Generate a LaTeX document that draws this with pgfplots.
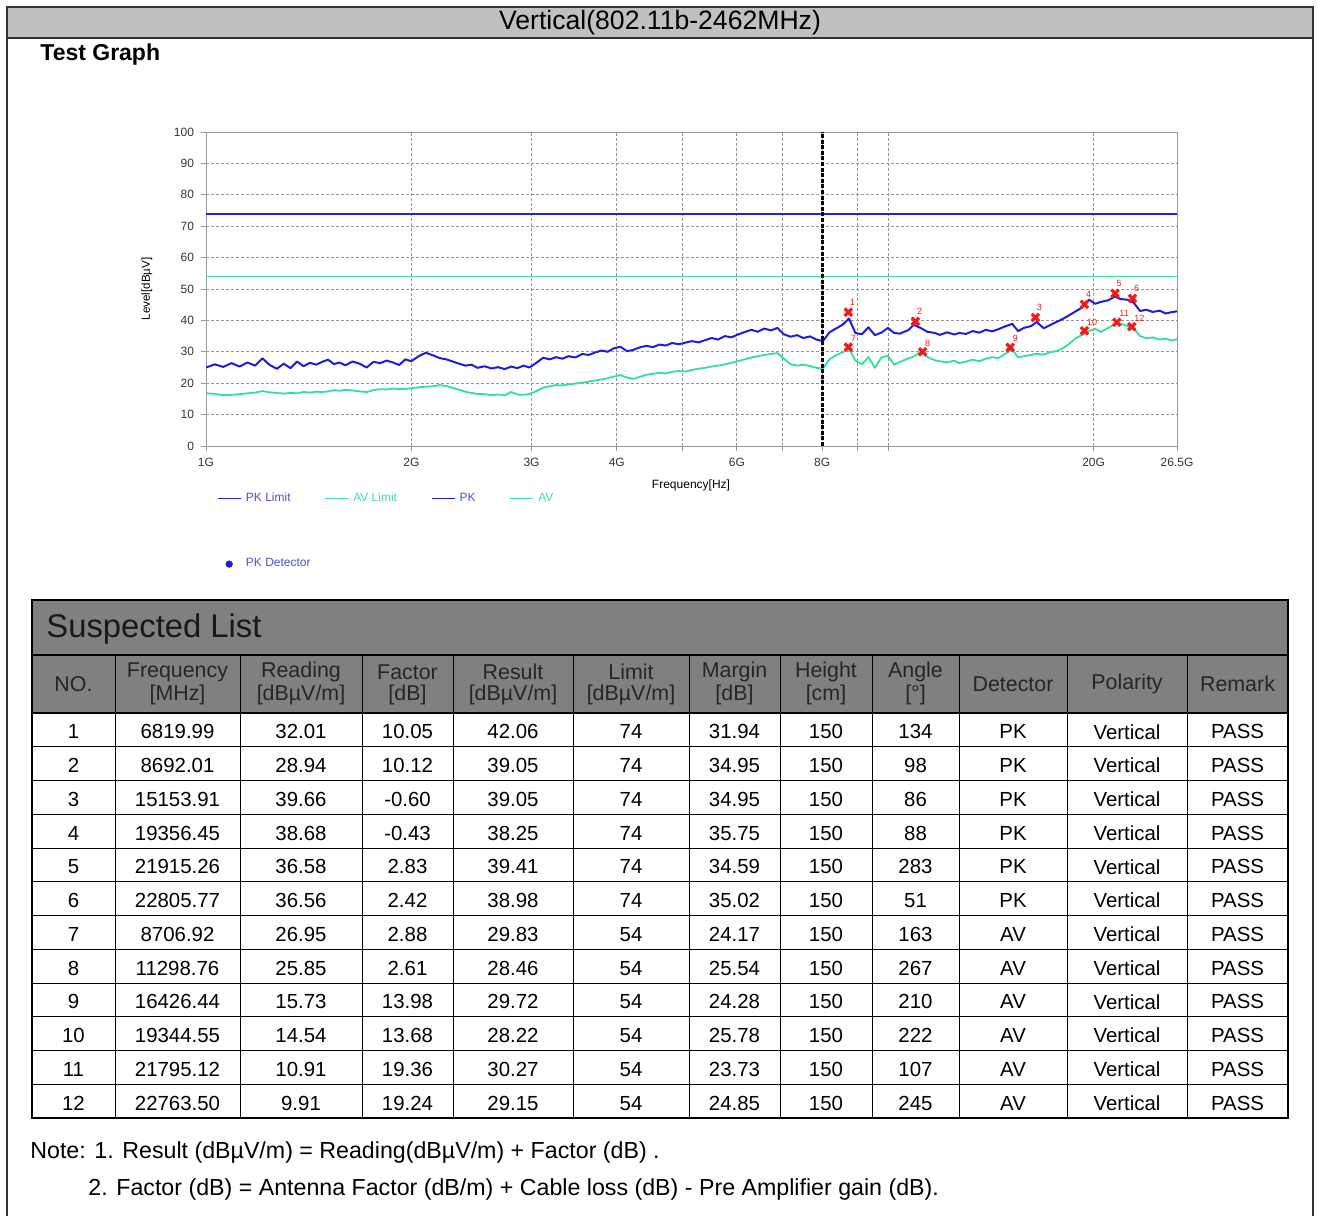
\documentclass[border=0pt]{standalone}
\usepackage{fontspec}
\setmainfont{Liberation Sans}
\usepackage{pgfplots}
\usepackage{pgfplotstable}
\pgfplotsset{compat=1.18}
\definecolor{pkblue}{RGB}{30,30,215}
\definecolor{avgreen}{RGB}{50,225,150}
\definecolor{pklim}{RGB}{35,35,220}
\definecolor{avlim}{RGB}{60,230,160}
\definecolor{barg}{RGB}{192,192,192}
\definecolor{hdrg}{RGB}{128,128,128}
\definecolor{mk}{RGB}{245,25,25}
\definecolor{gridg}{RGB}{150,150,150}
\definecolor{legpk}{RGB}{80,80,200}
\definecolor{legav}{RGB}{70,220,160}

\pgfplotstableread{
f pk av
1.00 25.0 16.8
1.03 26.0 16.6
1.06 25.2 16.2
1.09 26.4 16.3
1.12 25.3 16.5
1.15 26.6 16.8
1.18 25.6 17.0
1.21 27.9 17.5
1.24 25.8 17.1
1.27 24.6 16.9
1.30 26.2 16.7
1.33 24.8 16.9
1.36 26.9 16.8
1.39 25.4 17.2
1.42 26.5 17.0
1.45 25.9 17.3
1.48 26.8 17.2
1.51 27.5 17.4
1.54 26.1 17.8
1.57 26.6 17.6
1.60 25.7 17.9
1.64 26.9 17.7
1.68 26.2 17.4
1.72 25.0 17.2
1.76 26.8 17.8
1.80 26.4 18.1
1.84 27.2 18.0
1.88 26.6 18.3
1.92 25.8 18.1
1.96 27.6 18.2
2.00 27.0 18.4
2.05 28.6 18.7
2.10 29.7 18.9
2.15 28.9 19.0
2.20 28.0 19.4
2.25 27.6 19.1
2.30 26.9 18.5
2.35 26.2 17.9
2.40 25.6 17.3
2.45 25.9 16.9
2.50 24.9 16.6
2.56 25.4 16.5
2.62 24.7 16.2
2.68 25.1 16.4
2.74 24.5 16.1
2.80 25.3 17.2
2.86 24.8 16.4
2.92 25.6 16.3
2.98 25.0 16.6
3.05 26.5 17.5
3.12 28.1 18.6
3.19 27.6 19.0
3.26 28.3 19.4
3.33 27.8 19.3
3.40 28.6 19.6
3.48 28.2 19.9
3.56 29.3 20.2
3.64 29.0 20.5
3.72 29.8 20.9
3.80 30.4 21.2
3.88 30.0 21.6
3.96 31.1 22.1
4.05 31.6 22.6
4.14 30.2 21.8
4.23 30.6 21.4
4.32 31.4 22.0
4.42 31.9 22.7
4.52 31.5 23.0
4.62 32.3 23.3
4.72 32.0 23.1
4.82 32.8 23.6
4.93 32.4 23.9
5.04 32.9 23.7
5.15 33.4 24.2
5.27 33.0 24.6
5.39 33.7 24.9
5.51 34.4 25.3
5.63 33.9 25.6
5.76 35.0 26.0
5.89 34.6 26.5
6.02 35.5 27.0
6.16 36.3 27.6
6.30 37.0 28.2
6.44 36.4 28.6
6.58 37.4 29.0
6.73 36.8 29.3
6.88 37.6 29.6
7.03 35.6 27.8
7.19 34.8 26.1
7.35 35.3 25.6
7.51 34.4 25.9
7.68 34.9 25.5
7.85 33.9 24.9
8.02 33.4 24.6
8.20 36.2 27.6
8.38 37.4 28.9
8.57 38.6 29.8
8.76 40.6 31.0
8.95 36.0 27.2
9.15 35.6 26.0
9.35 37.8 28.3
9.56 35.3 24.9
9.77 36.1 28.2
9.99 37.6 28.7
10.2 36.0 25.9
10.4 35.8 26.8
10.7 36.9 27.9
10.9 38.6 28.5
11.2 37.4 30.3
11.4 36.4 28.4
11.7 36.0 27.3
11.9 35.4 27.0
12.2 36.2 26.6
12.5 35.5 27.2
12.7 36.0 26.4
13.0 35.7 26.9
13.3 36.6 27.5
13.6 36.1 27.0
13.9 37.0 27.8
14.2 36.5 28.3
14.5 37.2 28.0
14.8 38.0 29.2
15.2 38.9 30.7
15.5 36.6 28.2
15.8 37.6 28.6
16.2 38.2 29.0
16.5 39.5 29.4
16.9 37.5 29.1
17.3 38.6 29.9
17.6 39.4 30.2
18.0 40.4 31.0
18.4 41.6 32.5
18.8 42.8 34.2
19.2 44.0 35.3
19.7 46.6 36.6
20.1 45.3 37.3
20.5 45.9 36.3
21.0 46.4 37.6
21.5 47.6 38.8
21.9 46.8 39.0
22.4 46.6 38.2
22.9 45.6 37.4
23.4 43.0 35.0
23.9 43.4 34.3
24.4 42.7 34.6
25.0 43.1 33.9
25.5 42.2 34.2
26.0 42.6 33.6
26.5 42.9 34.0
}\trace

\pgfplotstableread{
f lvl lab
8.74 42.6 1
10.96 39.7 2
16.43 40.9 3
19.39 45.1 4
21.50 48.6 5
22.80 47.0 6
}\pkmk

\pgfplotstableread{
f lvl lab
8.74 31.5 7
11.23 30.0 8
15.09 31.4 9
19.39 36.7 10
21.63 39.4 11
22.75 38.0 12
}\avmk

\begin{document}
\begin{tikzpicture}
\begin{scope}[x=0.5pt,y=-0.5pt]
\path[use as bounding box] (0,0) rectangle (1318,1216);
\fill[barg] (7,7) rectangle (1313,38);
\draw[line width=1pt, black!80] (7,1216) -- (7,7) -- (1313,7) -- (1313,1216);
\draw[line width=0.8pt, black!80] (7,38) -- (1313,38);
\node[font=\fontsize{13.3}{16}\selectfont] at (660,23) {Vertical(802.11b-2462MHz)};
\node[anchor=west, font=\bfseries\fontsize{11.5}{14}\selectfont, inner sep=0pt] at (40,55) {Test Graph};
\node[rotate=90, font=\fontsize{5.8}{7}\selectfont] at (147,289) {Level[dBµV]};
\node[font=\fontsize{6}{7}\selectfont] at (691,485) {Frequency[Hz]};
\coordinate (O) at (206,446);
% table
\fill[hdrg] (32,600) rectangle (1288,713);
\draw[line width=0.6pt] (32,655) -- (1288,655);
\draw[line width=0.8pt] (32,713) -- (1288,713);
\foreach \k in {1,...,11} {\draw[line width=0.5pt] (32,{713+33.75*\k}) -- (1288,{713+33.75*\k});}
\foreach \xx in {115,240,362,453,573,689,780,872,959,1067,1187} {\draw[line width=0.5pt] (\xx,655) -- (\xx,1118);}
\draw[line width=1pt] (32,600) rectangle (1288,1118);
\node[anchor=west, font=\fontsize{16.4}{19}\selectfont, text=black!90, inner sep=0pt] at (46,629) {Suspected List};
\begin{scope}[every node/.style={font=\fontsize{10.7}{12}\selectfont, text=black!85, inner sep=0pt}]
\foreach \cx/\ta/\tb in {177.5/Frequency/{[MHz]}, 301/Reading/{[dBµV/m]}, 407.5/Factor/{[dB]}, 513/Result/{[dBµV/m]}, 631/Limit/{[dBµV/m]}, 734.5/Margin/{[dB]}, 826/Height/{[cm]}, 915.5/Angle/{[°]}} {
  \node at (\cx,672) {\ta};
  \node at (\cx,695) {\tb};
}
\foreach \cx/\ta in {73.5/NO., 1013/Detector, 1127/Polarity, 1237.5/Remark} {
  \node at (\cx,684) {\ta};
}
\end{scope}
\begin{scope}[every node/.style={font=\fontsize{10.2}{12}\selectfont, inner sep=0pt}]
\foreach \n/\fr/\rd/\fc/\rs/\lm/\mg/\an/\de in {
1/6819.99/32.01/10.05/42.06/74/31.94/134/PK,
2/8692.01/28.94/10.12/39.05/74/34.95/98/PK,
3/15153.91/39.66/-0.60/39.05/74/34.95/86/PK,
4/19356.45/38.68/-0.43/38.25/74/35.75/88/PK,
5/21915.26/36.58/2.83/39.41/74/34.59/283/PK,
6/22805.77/36.56/2.42/38.98/74/35.02/51/PK,
7/8706.92/26.95/2.88/29.83/54/24.17/163/AV,
8/11298.76/25.85/2.61/28.46/54/25.54/267/AV,
9/16426.44/15.73/13.98/29.72/54/24.28/210/AV,
10/19344.55/14.54/13.68/28.22/54/25.78/222/AV,
11/21795.12/10.91/19.36/30.27/54/23.73/107/AV,
12/22763.50/9.91/19.24/29.15/54/24.85/245/AV} {
  \pgfmathsetmacro\yy{715+33.75*(\n-0.5)}
  \node at (73.5,\yy) {\n};
  \node at (177.5,\yy) {\fr};
  \node at (301,\yy) {\rd};
  \node at (407.5,\yy) {\fc};
  \node at (513,\yy) {\rs};
  \node at (631,\yy) {\lm};
  \node at (734.5,\yy) {\mg};
  \node at (826,\yy) {150};
  \node at (915.5,\yy) {\an};
  \node at (1013,\yy) {\de};
  \node at (1127,\yy) {Vertical};
  \node at (1237.5,\yy) {PASS};
}
\end{scope}
\node[anchor=west, inner sep=0pt, font=\fontsize{11.6}{13}\selectfont] at (30,1152) {Note: 1. Result (dBµV/m) = Reading(dBµV/m) + Factor (dB) .};
\node[anchor=west, inner sep=0pt, font=\fontsize{11.6}{13}\selectfont] at (88,1189) {2. Factor (dB) = Antenna Factor (dB/m) + Cable loss (dB) - Pre Amplifier gain (dB).};
\end{scope}

\begin{axis}[
  at={(O)}, anchor=south west,
  scale only axis, width=485.5pt, height=157pt,
  xmode=log, xmin=1, xmax=26.5, ymin=0, ymax=100,
  xtick={1,2,3,4,6,8,26.5}, xticklabels={1G,2G,3G,4G,6G,8G,26.5G},
  extra x ticks={5,7,9,10,20}, extra x tick labels={,,,,20G},
  extra x tick style={grid style={black!85, dash pattern=on 1.5pt off 1pt, line width=0.5pt}},
  ytick={0,10,20,30,40,50,60,70,90,100},
  extra y ticks={80}, extra y tick style={grid style={black, dash pattern=on 1.5pt off 1pt, line width=0.6pt}},
  minor xtick={}, minor ytick={},
  grid=major, major grid style={gridg, dash pattern=on 1.5pt off 1pt, line width=0.4pt},
  axis line style={gray!80, line width=0.5pt},
  tick align=outside, major tick length=2.5pt, tick style={gray!80, line width=0.4pt},
  tick pos=left,
  tick label style={font=\fontsize{6}{7}\selectfont, text=black!80},
  /pgf/number format/assume math mode=true,
  legend image code/.code={\draw[#1, line width=0.8pt] (0pt,0pt) -- (11.5pt,0pt);},
  legend style={at={(rel axis cs:0.0113,-0.135)}, anchor=north west, draw=none, fill=none,
    inner sep=0pt, font=\fontsize{6}{7}\selectfont, row sep=23pt,
    /tikz/every even column/.append style={column sep=15pt}},
  legend columns=4, legend cell align=left,
]
\addplot[pklim, line width=1pt] coordinates {(1,74) (26.5,74)};
\addlegendentry{\textcolor{legpk}{PK Limit}}
\addplot[avlim, line width=0.9pt] coordinates {(1,54) (26.5,54)};
\addlegendentry{\textcolor{legav}{AV Limit}}
\addplot[pkblue, line width=1pt, line join=round] table[x=f,y=pk]{\trace};
\addlegendentry{\textcolor{legpk}{PK}}
\addplot[avgreen, line width=0.9pt, line join=round] table[x=f,y=av]{\trace};
\addlegendentry{\textcolor{legav}{AV}}
\draw[black, line width=1.4pt, dash pattern=on 2pt off 0.8pt] (axis cs:8,0) -- (axis cs:8,100);
\addplot[forget plot, only marks, mark=x, mark size=2.6pt, mk, line width=1.6pt,
  nodes near coords, point meta=explicit symbolic,
  nodes near coords style={anchor=south west, inner sep=0pt, font=\fontsize{4.5}{5}\selectfont, text=mk, xshift=0pt, yshift=2.5pt}]
  table[x=f,y=lvl,meta=lab]{\pkmk};
\addplot[forget plot, only marks, mark=x, mark size=2.6pt, mk, line width=1.6pt,
  nodes near coords, point meta=explicit symbolic,
  nodes near coords style={anchor=south west, inner sep=0pt, font=\fontsize{4.5}{5}\selectfont, text=mk, xshift=0.5pt, yshift=2pt}]
  table[x=f,y=lvl,meta=lab]{\avmk};
\addlegendimage{legend image code/.code={\fill[pkblue] (5.5pt,0pt) circle (1.6pt);}}
\addlegendentry{\makebox[0pt][l]{\textcolor{legpk}{PK Detector}}}
\end{axis}
\end{tikzpicture}
\end{document}
